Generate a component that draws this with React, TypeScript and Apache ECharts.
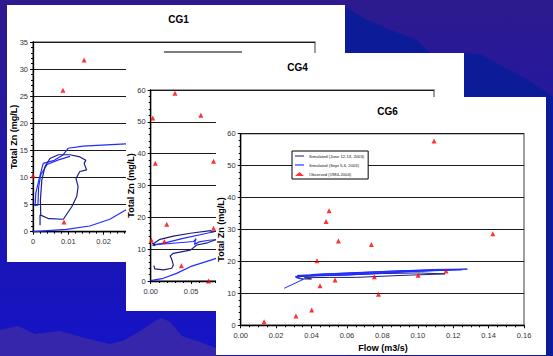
import React, { useEffect, useRef } from "react";
import * as echarts from "echarts";

const W = 553;
const H = 356;
const FONT = "Liberation Sans, Arial, sans-serif";

// ---------- data ----------
const seriesNames = ["Simulated (June 12-13, 2003)", "Simulated (Sept 5-6, 2003)", "Observed (1984-2004)"];
const panelTitles = ["CG1", "CG4", "CG6"];
const yTitle = "Total Zn (mg/L)";
const xTitle = "Flow (m3/s)";

// CG1
const cg1Observed = [[0.0, 10.3], [0.0085, 26.1], [0.0145, 31.7], [0.0088, 1.8]];
const cg1June = [
  [0.002, 1.2], [0.002, 3.1], [0.0045, 2.4], [0.0086, 2.3], [0.011, 4.6], [0.0124, 6.5], [0.0128, 8.3],
  [0.0122, 9.8], [0.0133, 11.1], [0.0152, 11.4], [0.0145, 12.6], [0.015, 13.2], [0.0133, 13.8],
  [0.0105, 14.2], [0.0072, 14.2], [0.0048, 13.5], [0.0034, 12.0], [0.0025, 9.5], [0.0021, 5.8], [0.0022, 3.0],
];
const cg1SeptHigh = [
  [0.0006, 4.9], [0.0008, 7.1], [0.0018, 9.9], [0.0029, 12.6], [0.0058, 13.1], [0.0086, 14.2],
  [0.01, 15.4], [0.0142, 15.8], [0.0263, 16.2], [0.03, 16.2],
];
const cg1SeptMid = [
  [0.0004, 4.8], [0.0014, 4.9], [0.0016, 8.2], [0.0022, 10.5], [0.004, 12.4], [0.007, 13.2], [0.0105, 13.9],
];
const cg1SeptLow = [[0, 0], [0.0095, 0.44], [0.0161, 1.05], [0.0218, 2.3], [0.0263, 4.0], [0.03, 4.6]];

// CG4
const cg4Observed = [
  [0.0025, 51.2], [0.03, 59.0], [0.062, 52.1], [0.0057, 37.0], [0.0777, 37.6], [0.0198, 17.8],
  [0.0008, 12.9], [0.0169, 12.4], [0.038, 4.8], [0.0715, 0.0], [0.0777, 16.6],
];
const cg4JuneHigh = [
  [0.002, 12.0], [0.005, 11.0], [0.004, 11.8], [0.006, 12.2], [0.0115, 13.1], [0.028, 14.1],
  [0.049, 15.0], [0.074, 15.8], [0.076, 15.4], [0.09, 16.2],
];
const cg4JuneLow = [
  [0.004, 4.8], [0.005, 3.8], [0.016, 3.5], [0.026, 4.0], [0.028, 5.0], [0.026, 6.8], [0.024, 7.9],
  [0.028, 8.7], [0.049, 9.7], [0.057, 11.3], [0.07, 12.0], [0.082, 13.1], [0.09, 13.3],
];
const cg4SeptA = [[0.002, 11.2], [0.0177, 12.0], [0.04, 13.4], [0.0695, 15.0], [0.082, 15.7], [0.09, 15.9]];
const cg4SeptB = [
  [0.003, 11.4], [0.02, 11.7], [0.053, 12.4], [0.056, 13.3], [0.054, 11.5], [0.06, 12.3], [0.072, 12.8], [0.09, 13.2],
];
const cg4SeptLow = [[0, 0.1], [0.0156, 0.85], [0.032, 2.4], [0.049, 4.5], [0.081, 7.1], [0.09, 7.8]];

// CG6
const cg6Observed = [
  [0.0132, 1.1], [0.0312, 2.9], [0.0401, 4.8], [0.0431, 20.2], [0.0448, 12.4], [0.0482, 32.5],
  [0.0499, 35.9], [0.0552, 26.4], [0.0533, 14.2], [0.0738, 25.3], [0.0755, 15.2], [0.0778, 9.7],
  [0.1002, 15.7], [0.116, 17.0], [0.1424, 28.7], [0.1092, 57.7],
];
const cg6June = [
  [0.031, 15.0], [0.034, 14.5], [0.04, 14.5], [0.036, 14.9], [0.05, 15.0], [0.065, 15.0], [0.09, 15.6],
  [0.1154, 16.1], [0.1, 16.4], [0.08, 16.2], [0.06, 15.8], [0.045, 15.5], [0.031, 15.2],
];
const cg6Sept = [
  [0.0246, 11.6], [0.0354, 14.4], [0.031, 15.3], [0.06, 16.0], [0.09, 16.8], [0.128, 17.6], [0.11, 17.5],
  [0.08, 16.8], [0.05, 16.1], [0.032, 15.6], [0.06, 15.7], [0.1, 16.9], [0.125, 17.4], [0.09, 17.1],
  [0.06, 16.4], [0.04, 15.9], [0.07, 16.3], [0.116, 17.3],
];

// axes ranges [min, max, interval, last visible label]
const xRanges = [[0, 0.08, 0.01, 0.02], [0, 0.35, 0.05, 0.05], [0, 0.16, 0.02, 0.16]];
const yRanges = [[0, 35, 5], [0, 60, 10], [0, 60, 10]];

// ---------- layout ----------
const panels = [
  { x: 7, y: 5, w: 338, h: 257, z: 10 },
  { x: 126, y: 53, w: 338, h: 258, z: 20 },
  { x: 216, y: 97, w: 330, h: 258, z: 30 },
];
const grids = [
  { left: 33, top: 42, width: 282, height: 189.7 },
  { left: 150.7, top: 90, width: 283.3, height: 191 },
  { left: 240.7, top: 133.7, width: 283.3, height: 191.6 },
];
const JUNE = "#1c1c84";
const SEPT = "#1f2cff";
const RED = "#ff0000";

function text(x: number, y: number, t: string, size: number, z: number, bold = true, rot = 0) {
  return {
    type: "text",
    x,
    y,
    rotation: rot,
    z,
    silent: true,
    style: {
      text: t,
      fill: "#000",
      fontSize: size,
      fontWeight: bold ? "bold" : "normal",
      fontFamily: FONT,
      textAlign: "center",
      textVerticalAlign: "middle",
      align: "center",
      verticalAlign: "middle",
    },
  };
}

function xAxis(i: number, minor: number) {
  const [min, max, interval, lastShown] = xRanges[i];
  return {
    type: "value",
    gridIndex: i,
    min,
    max,
    interval,
    z: panels[i].z + 1,
    axisLine: { show: true, onZero: false, lineStyle: { color: "#000", width: 1.3 } },
    axisTick: { show: true, length: 3, lineStyle: { color: "#000", width: 1 } },
    minorTick: { show: true, splitNumber: minor, length: 2, lineStyle: { color: "#000", width: 1 } },
    axisLabel: {
      fontSize: 7.5,
      color: "#333",
      margin: 6,
      fontFamily: FONT,
      // labels further right lie under the next panel, so they are not drawn
      formatter: (v: number) => (v > lastShown + 1e-9 ? "" : i === 0 && v === 0 ? "0" : v.toFixed(2)),
    },
    splitLine: { show: false },
  };
}
function yAxis(i: number) {
  const [min, max, interval] = yRanges[i];
  return {
    type: "value",
    gridIndex: i,
    min,
    max,
    interval,
    z: panels[i].z + 1,
    axisLine: { show: true, onZero: false, lineStyle: { color: "#000", width: 1.3 } },
    axisTick: { show: true, length: 3, lineStyle: { color: "#000", width: 1 } },
    minorTick: { show: true, splitNumber: 5, length: 2, lineStyle: { color: "#000", width: 1 } },
    axisLabel: { fontSize: 7.5, color: "#333", margin: 5, fontFamily: FONT },
    splitLine: { show: true, lineStyle: { color: "#1a1a1a", width: 1 } },
  };
}

function line(name: string, data: number[][], i: number, color: string, width = 1.2) {
  return {
    type: "line",
    name,
    data,
    xAxisIndex: i,
    yAxisIndex: i,
    symbol: "none",
    showSymbol: false,
    lineStyle: { color, width },
    itemStyle: { color },
    z: panels[i].z + 2,
    silent: true,
  };
}
function scatter(data: number[][], i: number) {
  return {
    type: "scatter",
    name: seriesNames[2],
    data,
    xAxisIndex: i,
    yAxisIndex: i,
    symbol: "triangle",
    symbolSize: [5, 5],
    itemStyle: { color: RED },
    z: panels[i].z + 3,
    silent: true,
  };
}

function buildOption() {
  const graphics: any[] = [
    {
      type: "rect",
      z: 0,
      silent: true,
      shape: { x: 0, y: 0, width: W, height: H },
      style: {
        fill: {
          type: "linear",
          x: 0,
          y: 0,
          x2: 0,
          y2: 1,
          colorStops: [
            { offset: 0, color: "#2c1a8e" },
            { offset: 0.65, color: "#1c15b2" },
            { offset: 1, color: "#1414c8" },
          ],
        },
      },
    },
    {
      type: "polygon",
      z: 1,
      silent: true,
      shape: {
        points: [
          [345, 7], [367, 20], [390, 30], [417, 40], [430, 53], [464, 53], [482, 55], [503, 67],
          [523, 77], [543, 90], [553, 97], [553, 356], [345, 356],
        ],
      },
      style: { fill: "#0c1c98" },
    },
    {
      type: "polygon",
      z: 1,
      silent: true,
      shape: {
        points: [
          [0, 356], [0, 330], [18, 326], [35, 334], [60, 331], [85, 338], [110, 344], [125, 340], [140, 331],
          [155, 321], [162, 318], [170, 322], [182, 336], [200, 342], [216, 348], [216, 356],
        ],
      },
      style: { fill: "#3626ac" },
    },
  ];
  panels.forEach((p, i) => {
    graphics.push({
      type: "rect",
      z: p.z,
      silent: true,
      shape: { x: p.x, y: p.y, width: p.w, height: p.h },
      style: { fill: "#ffffff" },
    });
    graphics.push(text(p.x + 171.5, p.y + 14.5, panelTitles[i], 10, p.z + 4));
    const g = grids[i];
    graphics.push(text(g.left - 19.5, g.top + g.height / 2, yTitle, 9, p.z + 4, true, Math.PI / 2));
  });
  // partially visible legend frame of CG1
  graphics.push({
    type: "line",
    z: 14,
    silent: true,
    shape: { x1: 164, y1: 52, x2: 242, y2: 52 },
    style: { stroke: "#000", lineWidth: 1 },
  });
  graphics.push(text(383, 347.5, xTitle, 9, 34));

  const lineIcon = "path://M0,0H14V2H0Z";
  return {
    animation: false,
    backgroundColor: "transparent",
    textStyle: { fontFamily: FONT },
    graphic: { elements: graphics },
    grid: grids.map((g, i) => ({
      ...g,
      show: true,
      containLabel: false,
      backgroundColor: "transparent",
      borderColor: "#808080",
      borderWidth: 1.5,
      z: panels[i].z + 1,
    })),
    xAxis: [xAxis(0, 5), xAxis(1, 5), xAxis(2, 4)],
    yAxis: [yAxis(0), yAxis(1), yAxis(2)],
    legend: {
      z: 36,
      left: 292,
      top: 151,
      orient: "vertical",
      selectedMode: false,
      data: [
        { name: seriesNames[0], icon: lineIcon, itemStyle: { color: "#4a4a9c" } },
        { name: seriesNames[1], icon: lineIcon, itemStyle: { color: "#3b46ff" } },
        { name: seriesNames[2], icon: "triangle" },
      ],
      itemWidth: 9,
      itemHeight: 4,
      itemGap: 5,
      padding: [3, 4, 3, 3],
      borderColor: "#000",
      borderWidth: 1,
      backgroundColor: "#fff",
      textStyle: { fontSize: 4.2, color: "#111", fontFamily: FONT },
    },
    series: [
      line(seriesNames[1], cg1SeptLow, 0, SEPT),
      line(seriesNames[1], cg1SeptHigh, 0, SEPT),
      line(seriesNames[1], cg1SeptMid, 0, SEPT),
      line(seriesNames[0], cg1June, 0, JUNE),
      scatter(cg1Observed, 0),
      line(seriesNames[1], cg4SeptLow, 1, SEPT),
      line(seriesNames[1], cg4SeptA, 1, SEPT),
      line(seriesNames[1], cg4SeptB, 1, SEPT),
      line(seriesNames[0], cg4JuneHigh, 1, JUNE),
      line(seriesNames[0], cg4JuneLow, 1, JUNE),
      scatter(cg4Observed, 1),
      line(seriesNames[0], cg6June, 2, JUNE, 1),
      line(seriesNames[1], cg6Sept, 2, SEPT, 1),
      scatter(cg6Observed, 2),
    ],
  };
}

export default function App() {
  const ref = useRef<HTMLDivElement>(null);
  useEffect(() => {
    document.body.style.margin = "0";
    const chart = echarts.init(ref.current as HTMLDivElement, null, { renderer: "svg", width: W, height: H });
    chart.setOption(buildOption() as any);
    return () => chart.dispose();
  }, []);
  return <div ref={ref} style={{ width: W, height: H }} />;
}
